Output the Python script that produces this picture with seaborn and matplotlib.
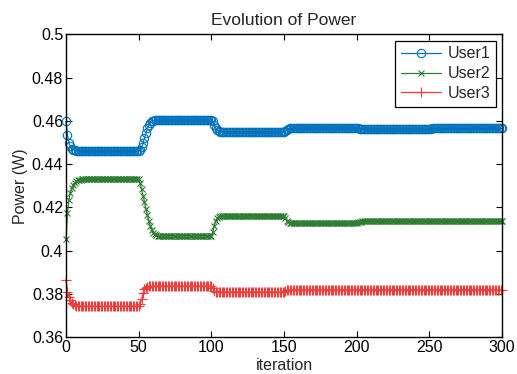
import matplotlib
matplotlib.use("Agg")
import matplotlib.pyplot as plt
import seaborn as sns
import numpy as np
import pandas as pd

iterations = list(range(301))

user1 = [
    0.4598, 0.4535, 0.4500, 0.4482, 0.4472, 0.4467, 0.4464, 0.4462, 0.4461, 0.4460,
    0.4460, 0.4460, 0.4460, 0.4460, 0.4460, 0.4460, 0.4460, 0.4460, 0.4460, 0.4460,
    0.4460, 0.4460, 0.4460, 0.4460, 0.4460, 0.4460, 0.4460, 0.4460, 0.4460, 0.4460,
    0.4460, 0.4460, 0.4460, 0.4460, 0.4460, 0.4460, 0.4460, 0.4460, 0.4460, 0.4460,
    0.4460, 0.4460, 0.4460, 0.4460, 0.4460, 0.4460, 0.4460, 0.4460, 0.4460, 0.4460,
    0.4460, 0.4465, 0.4478, 0.4497, 0.4520, 0.4544, 0.4565, 0.4581, 0.4592, 0.4598,
    0.4601, 0.4603, 0.4604, 0.4605, 0.4605, 0.4605, 0.4605, 0.4605, 0.4605, 0.4605,
    0.4605, 0.4605, 0.4605, 0.4605, 0.4605, 0.4605, 0.4605, 0.4605, 0.4605, 0.4605,
    0.4605, 0.4605, 0.4605, 0.4605, 0.4605, 0.4605, 0.4605, 0.4605, 0.4605, 0.4605,
    0.4605, 0.4605, 0.4605, 0.4605, 0.4605, 0.4605, 0.4605, 0.4605, 0.4605, 0.4605,
    0.4605, 0.4598, 0.4582, 0.4566, 0.4557, 0.4552, 0.4550, 0.4549, 0.4549, 0.4549,
    0.4549, 0.4549, 0.4549, 0.4549, 0.4549, 0.4549, 0.4549, 0.4549, 0.4549, 0.4549,
    0.4549, 0.4549, 0.4549, 0.4549, 0.4549, 0.4549, 0.4549, 0.4549, 0.4549, 0.4549,
    0.4549, 0.4549, 0.4549, 0.4549, 0.4549, 0.4549, 0.4549, 0.4549, 0.4549, 0.4549,
    0.4549, 0.4549, 0.4549, 0.4549, 0.4549, 0.4549, 0.4549, 0.4549, 0.4549, 0.4549,
    0.4549, 0.4553, 0.4559, 0.4563, 0.4565, 0.4566, 0.4567, 0.4567, 0.4567, 0.4567,
    0.4567, 0.4567, 0.4567, 0.4567, 0.4567, 0.4567, 0.4567, 0.4567, 0.4567, 0.4567,
    0.4567, 0.4567, 0.4567, 0.4567, 0.4567, 0.4567, 0.4567, 0.4567, 0.4567, 0.4567,
    0.4567, 0.4567, 0.4567, 0.4567, 0.4567, 0.4567, 0.4567, 0.4567, 0.4567, 0.4567,
    0.4567, 0.4567, 0.4567, 0.4567, 0.4567, 0.4567, 0.4567, 0.4567, 0.4567, 0.4567,
    0.4567, 0.4565, 0.4564, 0.4563, 0.4563, 0.4563, 0.4563, 0.4563, 0.4563, 0.4563,
    0.4563, 0.4563, 0.4563, 0.4563, 0.4563, 0.4563, 0.4563, 0.4563, 0.4563, 0.4563,
    0.4563, 0.4563, 0.4563, 0.4563, 0.4563, 0.4563, 0.4563, 0.4563, 0.4563, 0.4563,
    0.4563, 0.4563, 0.4563, 0.4563, 0.4563, 0.4563, 0.4563, 0.4563, 0.4563, 0.4563,
    0.4563, 0.4563, 0.4563, 0.4563, 0.4563, 0.4563, 0.4563, 0.4563, 0.4563, 0.4563,
    0.4563, 0.4564, 0.4565, 0.4565, 0.4565, 0.4565, 0.4565, 0.4565, 0.4565, 0.4565,
    0.4565, 0.4565, 0.4565, 0.4565, 0.4565, 0.4565, 0.4565, 0.4565, 0.4565, 0.4565,
    0.4565, 0.4565, 0.4565, 0.4565, 0.4565, 0.4565, 0.4565, 0.4565, 0.4565, 0.4565,
    0.4565, 0.4565, 0.4565, 0.4565, 0.4565, 0.4565, 0.4565, 0.4565, 0.4565, 0.4565,
    0.4565, 0.4565, 0.4565, 0.4565, 0.4565, 0.4565, 0.4565, 0.4565, 0.4565, 0.4565,
    0.4565,
]

user2 = [
    0.4052, 0.4175, 0.4234, 0.4268, 0.4290, 0.4305, 0.4315, 0.4321, 0.4325, 0.4327,
    0.4328, 0.4329, 0.4329, 0.4329, 0.4329, 0.4329, 0.4329, 0.4329, 0.4329, 0.4329,
    0.4329, 0.4329, 0.4329, 0.4329, 0.4329, 0.4329, 0.4329, 0.4329, 0.4329, 0.4329,
    0.4329, 0.4329, 0.4329, 0.4329, 0.4329, 0.4329, 0.4329, 0.4329, 0.4329, 0.4329,
    0.4329, 0.4329, 0.4329, 0.4329, 0.4329, 0.4329, 0.4329, 0.4329, 0.4329, 0.4329,
    0.4329, 0.4312, 0.4284, 0.4254, 0.4224, 0.4194, 0.4165, 0.4138, 0.4114, 0.4095,
    0.4082, 0.4075, 0.4071, 0.4069, 0.4069, 0.4069, 0.4069, 0.4069, 0.4069, 0.4069,
    0.4069, 0.4069, 0.4069, 0.4069, 0.4069, 0.4069, 0.4069, 0.4069, 0.4069, 0.4069,
    0.4069, 0.4069, 0.4069, 0.4069, 0.4069, 0.4069, 0.4069, 0.4069, 0.4069, 0.4069,
    0.4069, 0.4069, 0.4069, 0.4069, 0.4069, 0.4069, 0.4069, 0.4069, 0.4069, 0.4069,
    0.4069, 0.4085, 0.4115, 0.4138, 0.4151, 0.4157, 0.4159, 0.4160, 0.4160, 0.4160,
    0.4160, 0.4160, 0.4160, 0.4160, 0.4160, 0.4160, 0.4160, 0.4160, 0.4160, 0.4160,
    0.4160, 0.4160, 0.4160, 0.4160, 0.4160, 0.4160, 0.4160, 0.4160, 0.4160, 0.4160,
    0.4160, 0.4160, 0.4160, 0.4160, 0.4160, 0.4160, 0.4160, 0.4160, 0.4160, 0.4160,
    0.4160, 0.4160, 0.4160, 0.4160, 0.4160, 0.4160, 0.4160, 0.4160, 0.4160, 0.4160,
    0.4160, 0.4150, 0.4139, 0.4132, 0.4129, 0.4128, 0.4127, 0.4127, 0.4127, 0.4127,
    0.4127, 0.4127, 0.4127, 0.4127, 0.4127, 0.4127, 0.4127, 0.4127, 0.4127, 0.4127,
    0.4127, 0.4127, 0.4127, 0.4127, 0.4127, 0.4127, 0.4127, 0.4127, 0.4127, 0.4127,
    0.4127, 0.4127, 0.4127, 0.4127, 0.4127, 0.4127, 0.4127, 0.4127, 0.4127, 0.4127,
    0.4127, 0.4127, 0.4127, 0.4127, 0.4127, 0.4127, 0.4127, 0.4127, 0.4127, 0.4127,
    0.4127, 0.4130, 0.4133, 0.4134, 0.4135, 0.4135, 0.4135, 0.4135, 0.4135, 0.4135,
    0.4135, 0.4135, 0.4135, 0.4135, 0.4135, 0.4135, 0.4135, 0.4135, 0.4135, 0.4135,
    0.4135, 0.4135, 0.4135, 0.4135, 0.4135, 0.4135, 0.4135, 0.4135, 0.4135, 0.4135,
    0.4135, 0.4135, 0.4135, 0.4135, 0.4135, 0.4135, 0.4135, 0.4135, 0.4135, 0.4135,
    0.4135, 0.4135, 0.4135, 0.4135, 0.4135, 0.4135, 0.4135, 0.4135, 0.4135, 0.4135,
    0.4135, 0.4135, 0.4135, 0.4135, 0.4135, 0.4135, 0.4135, 0.4135, 0.4135, 0.4135,
    0.4135, 0.4135, 0.4135, 0.4135, 0.4135, 0.4135, 0.4135, 0.4135, 0.4135, 0.4135,
    0.4135, 0.4135, 0.4135, 0.4135, 0.4135, 0.4135, 0.4135, 0.4135, 0.4135, 0.4135,
    0.4135, 0.4135, 0.4135, 0.4135, 0.4135, 0.4135, 0.4135, 0.4135, 0.4135, 0.4135,
    0.4135, 0.4135, 0.4135, 0.4135, 0.4135, 0.4135, 0.4135, 0.4135, 0.4135, 0.4135,
    0.4135,
]

user3 = [
    0.3866, 0.3810, 0.3786, 0.3769, 0.3758, 0.3751, 0.3747, 0.3745, 0.3744, 0.3743,
    0.3742, 0.3742, 0.3742, 0.3742, 0.3742, 0.3742, 0.3742, 0.3742, 0.3742, 0.3742,
    0.3742, 0.3742, 0.3742, 0.3742, 0.3742, 0.3742, 0.3742, 0.3742, 0.3742, 0.3742,
    0.3742, 0.3742, 0.3742, 0.3742, 0.3742, 0.3742, 0.3742, 0.3742, 0.3742, 0.3742,
    0.3742, 0.3742, 0.3742, 0.3742, 0.3742, 0.3742, 0.3742, 0.3742, 0.3742, 0.3742,
    0.3742, 0.3752, 0.3775, 0.3802, 0.3820, 0.3829, 0.3833, 0.3834, 0.3834, 0.3835,
    0.3835, 0.3835, 0.3835, 0.3835, 0.3835, 0.3835, 0.3835, 0.3835, 0.3835, 0.3835,
    0.3835, 0.3835, 0.3835, 0.3835, 0.3835, 0.3835, 0.3835, 0.3835, 0.3835, 0.3835,
    0.3835, 0.3835, 0.3835, 0.3835, 0.3835, 0.3835, 0.3835, 0.3835, 0.3835, 0.3835,
    0.3835, 0.3835, 0.3835, 0.3835, 0.3835, 0.3835, 0.3835, 0.3835, 0.3835, 0.3835,
    0.3835, 0.3825, 0.3814, 0.3810, 0.3808, 0.3808, 0.3808, 0.3808, 0.3808, 0.3808,
    0.3808, 0.3808, 0.3808, 0.3808, 0.3808, 0.3808, 0.3808, 0.3808, 0.3808, 0.3808,
    0.3808, 0.3808, 0.3808, 0.3808, 0.3808, 0.3808, 0.3808, 0.3808, 0.3808, 0.3808,
    0.3808, 0.3808, 0.3808, 0.3808, 0.3808, 0.3808, 0.3808, 0.3808, 0.3808, 0.3808,
    0.3808, 0.3808, 0.3808, 0.3808, 0.3808, 0.3808, 0.3808, 0.3808, 0.3808, 0.3808,
    0.3808, 0.3812, 0.3816, 0.3818, 0.3818, 0.3818, 0.3818, 0.3818, 0.3818, 0.3818,
    0.3818, 0.3818, 0.3818, 0.3818, 0.3818, 0.3818, 0.3818, 0.3818, 0.3818, 0.3818,
    0.3818, 0.3818, 0.3818, 0.3818, 0.3818, 0.3818, 0.3818, 0.3818, 0.3818, 0.3818,
    0.3818, 0.3818, 0.3818, 0.3818, 0.3818, 0.3818, 0.3818, 0.3818, 0.3818, 0.3818,
    0.3818, 0.3818, 0.3818, 0.3818, 0.3818, 0.3818, 0.3818, 0.3818, 0.3818, 0.3818,
    0.3818, 0.3818, 0.3818, 0.3818, 0.3818, 0.3818, 0.3818, 0.3818, 0.3818, 0.3818,
    0.3818, 0.3818, 0.3818, 0.3818, 0.3818, 0.3818, 0.3818, 0.3818, 0.3818, 0.3818,
    0.3818, 0.3818, 0.3818, 0.3818, 0.3818, 0.3818, 0.3818, 0.3818, 0.3818, 0.3818,
    0.3818, 0.3818, 0.3818, 0.3818, 0.3818, 0.3818, 0.3818, 0.3818, 0.3818, 0.3818,
    0.3818, 0.3818, 0.3818, 0.3818, 0.3818, 0.3818, 0.3818, 0.3818, 0.3818, 0.3818,
    0.3818, 0.3818, 0.3818, 0.3818, 0.3818, 0.3818, 0.3818, 0.3818, 0.3818, 0.3818,
    0.3818, 0.3818, 0.3818, 0.3818, 0.3818, 0.3818, 0.3818, 0.3818, 0.3818, 0.3818,
    0.3818, 0.3818, 0.3818, 0.3818, 0.3818, 0.3818, 0.3818, 0.3818, 0.3818, 0.3818,
    0.3818, 0.3818, 0.3818, 0.3818, 0.3818, 0.3818, 0.3818, 0.3818, 0.3818, 0.3818,
    0.3818, 0.3818, 0.3818, 0.3818, 0.3818, 0.3818, 0.3818, 0.3818, 0.3818, 0.3818,
    0.3818,
]

series_names = ["User1", "User2", "User3"]
x_ticks = [0, 50, 100, 150, 200, 250, 300]
y_ticks = [0.36, 0.38, 0.40, 0.42, 0.44, 0.46, 0.48, 0.50]
y_tick_labels = ["0.36", "0.38", "0.4", "0.42", "0.44", "0.46", "0.48", "0.5"]

sns.set_style("ticks")
plt.rcParams["font.family"] = ["Liberation Sans", "DejaVu Sans"]

colors = ["#0072BD", "#2E7D32", "#F23C3C"]
markers = ["o", "x", "+"]
msizes = [6.0, 4.5, 7.0]

fig = plt.figure(figsize=(5.17, 3.74), dpi=100)
ax = fig.add_axes([0.1277, 0.0989, 0.8433, 0.8089])

for name, vals, c, m, ms in zip(series_names, [user1, user2, user3], colors, markers, msizes):
    df = pd.DataFrame({"iteration": iterations, "power": vals})
    kw = dict(marker=m, markersize=ms, markeredgewidth=0.8, linewidth=0.9,
              markeredgecolor=c, clip_on=False)
    if m == "o":
        kw["markerfacecolor"] = "none"
    else:
        kw["markerfacecolor"] = c
    sns.lineplot(data=df, x="iteration", y="power", color=c, label=name, ax=ax, **kw)

ax.set_xlim(0, 300)
ax.set_ylim(0.36, 0.5)
ax.set_xticks(x_ticks)
ax.set_yticks(y_ticks)
ax.set_yticklabels(y_tick_labels)
ax.tick_params(direction="in", length=4, width=0.8, top=True, right=True,
               labelsize=11.5, colors="black", pad=2)
for s in ax.spines.values():
    s.set_color("black")
    s.set_linewidth(1.0)
    s.set_visible(True)
    s.set_zorder(5)

ax.set_xlabel("iteration", fontsize=11.5, labelpad=2)
ax.set_ylabel("Power (W)", fontsize=11.5, labelpad=3)
ax.set_title("Evolution of Power", fontsize=12.5, pad=7)

leg = ax.legend(loc="upper right", fontsize=11.5, frameon=True, fancybox=False,
                edgecolor="black", framealpha=1, handlelength=2.5, borderpad=0.35,
                labelspacing=0.3, handletextpad=0.4, borderaxespad=0.4, numpoints=1)
leg.get_frame().set_linewidth(0.9)

fig.savefig("out.png", dpi=100, facecolor="white")
